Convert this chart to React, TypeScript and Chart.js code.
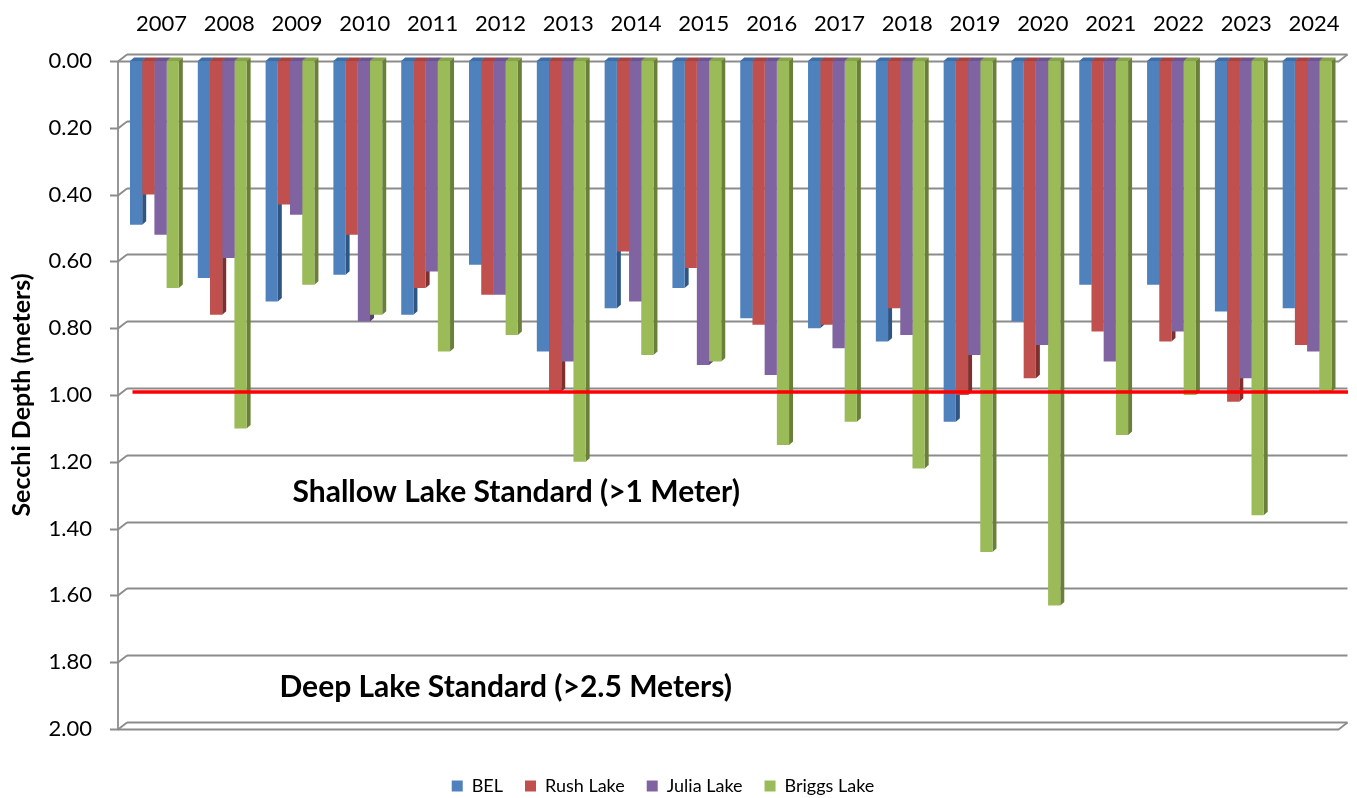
import React, { useEffect, useRef } from "react";
import { Chart, registerables } from "chart.js";

Chart.register(...registerables);

// ---------- data ----------
const YEARS = [
  "2007", "2008", "2009", "2010", "2011", "2012", "2013", "2014", "2015",
  "2016", "2017", "2018", "2019", "2020", "2021", "2022", "2023", "2024",
];
const BEL = [0.49, 0.65, 0.72, 0.64, 0.76, 0.61, 0.87, 0.74, 0.68, 0.77, 0.8, 0.84, 1.08, 0.78, 0.67, 0.67, 0.75, 0.74];
const RUSH = [0.4, 0.76, 0.43, 0.52, 0.68, 0.7, 0.99, 0.57, 0.62, 0.79, 0.79, 0.74, 1.0, 0.95, 0.81, 0.84, 1.02, 0.85];
const JULIA = [0.52, 0.59, 0.46, 0.78, 0.63, 0.7, 0.9, 0.72, 0.91, 0.94, 0.86, 0.82, 0.88, 0.85, 0.9, 0.81, 0.95, 0.87];
const BRIGGS = [0.68, 1.1, 0.67, 0.76, 0.87, 0.82, 1.2, 0.88, 0.9, 1.15, 1.08, 1.22, 1.47, 1.63, 1.12, 1.0, 1.36, 0.99];
const SERIES_NAMES = ["BEL", "Rush Lake", "Julia Lake", "Briggs Lake"];
const Y_MIN = 0;
const Y_MAX = 2;
const Y_STEP = 0.2;
const Y_TITLE = "Secchi Depth (meters)";
const STANDARD_DEPTH = 1.0;
const NOTES = ["Shallow Lake Standard (>1 Meter)", "Deep Lake Standard (>2.5 Meters)"];
const NOTE_DEPTHS = [1.29, 1.875];

// ---------- styles ----------
const FRONT = ["#4F81BD", "#C0504D", "#8064A2", "#9BBB59"];
const TOPC = ["#3F6DA5", "#A64442", "#6C558E", "#86A44B"];
const SIDE = ["#2F5583", "#7E302E", "#56426F", "#6A803A"];
const FONT = "Lato, 'Open Sans', sans-serif";
const GRID = "#8C8C8C";

const frame3d = {
  id: "frame3d",
  beforeDatasetsDraw(chart: any) {
    const ctx = chart.ctx;
    const ca = chart.chartArea;
    const ys = chart.scales.y;
    const DX = 9;
    const DY = 7;
    const fl = ca.left - 2.5;
    const fr = ca.right - 2.5;
    ctx.save();
    ctx.strokeStyle = GRID;
    ctx.lineWidth = 1.8;
    const n = Math.round((Y_MAX - Y_MIN) / Y_STEP);
    for (let i = 0; i <= n; i++) {
      const v = Y_MIN + i * Y_STEP;
      const py = Math.round(ys.getPixelForValue(v)) + 0.5;
      ctx.beginPath();
      ctx.moveTo(fl + DX, py - DY);
      ctx.lineTo(fr + DX, py - DY);
      ctx.stroke();
      ctx.beginPath();
      ctx.moveTo(fl - 8, py);
      ctx.lineTo(fl, py);
      ctx.lineTo(fl + DX, py - DY);
      ctx.stroke();
      if (i === 0 || i === n) {
        ctx.beginPath();
        ctx.moveTo(fl, py);
        ctx.lineTo(fr, py);
        ctx.lineTo(fr + DX, py - DY);
        ctx.stroke();
      }
    }
    ctx.beginPath();
    ctx.moveTo(fl, ys.getPixelForValue(Y_MIN));
    ctx.lineTo(fl, ys.getPixelForValue(Y_MAX));
    ctx.stroke();

    // 3D faces of the bars (top and right side)
    const d = 4;
    const e = 3.5;
    chart.data.datasets.forEach((_: any, di: number) => {
      const meta = chart.getDatasetMeta(di);
      meta.data.forEach((el: any) => {
        const p = el.getProps(["x", "y", "base", "width"], true);
        const xl = p.x - p.width / 2;
        const xr = p.x + p.width / 2;
        ctx.fillStyle = TOPC[di];
        ctx.beginPath();
        ctx.moveTo(xl, p.base);
        ctx.lineTo(xl + d, p.base - e);
        ctx.lineTo(xr + d, p.base - e);
        ctx.lineTo(xr, p.base);
        ctx.closePath();
        ctx.fill();
        ctx.fillStyle = SIDE[di];
        ctx.beginPath();
        ctx.moveTo(xr, p.base);
        ctx.lineTo(xr + d, p.base - e);
        ctx.lineTo(xr + d, p.y - e);
        ctx.lineTo(xr, p.y);
        ctx.closePath();
        ctx.fill();
      });
    });
    ctx.restore();
  },
  afterDatasetsDraw(chart: any) {
    const ctx = chart.ctx;
    const ca = chart.chartArea;
    const ys = chart.scales.y;
    ctx.save();
    // standard line
    const ry = ys.getPixelForValue(STANDARD_DEPTH) - 3;
    ctx.strokeStyle = "#FF0000";
    ctx.lineWidth = 3.5;
    ctx.beginPath();
    ctx.moveTo(ca.left + 12, ry);
    ctx.lineTo(ca.right + 7, ry);
    ctx.stroke();
    // notes
    ctx.fillStyle = "#000";
    ctx.font = `bold 30px ${FONT}`;
    ctx.textBaseline = "middle";
    ctx.textAlign = "left";
    ctx.fillText(NOTES[0], ca.left + 172, ys.getPixelForValue(NOTE_DEPTHS[0]));
    ctx.fillText(NOTES[1], ca.left + 159, ys.getPixelForValue(NOTE_DEPTHS[1]));
    ctx.restore();
  },
};

export default function App() {
  const ref = useRef<HTMLCanvasElement | null>(null);
  useEffect(() => {
    if (!ref.current) return;
    const series = [BEL, RUSH, JULIA, BRIGGS];
    const chart = new Chart(ref.current, {
      type: "bar",
      data: {
        labels: YEARS,
        datasets: series.map((s, i) => ({
          label: SERIES_NAMES[i],
          data: s,
          backgroundColor: FRONT[i],
          borderWidth: 0,
          categoryPercentage: 0.72,
          barPercentage: 1.0,
          xAxisID: "x",
        })),
      },
      options: {
        responsive: false,
        animation: false,
        layout: { padding: { left: -17, right: 14, top: 1, bottom: -7 } },
        plugins: {
          legend: {
            position: "bottom",
            labels: {
              boxWidth: 11,
              boxHeight: 11,
              padding: 22,
              color: "#000",
              font: { family: FONT, size: 18 },
            },
          },
          tooltip: { enabled: false },
        },
        scales: {
          x: {
            type: "category",
            position: "top",
            grid: { display: false, drawTicks: false },
            border: { display: false },
            ticks: {
              color: "#000",
              font: { family: FONT, size: 22 },
              padding: 24,
              labelOffset: 7,
              maxRotation: 0,
              autoSkip: false,
            },
            afterFit(scale: any) {
              scale.height = 60;
            },
          },
          xb: {
            type: "category",
            position: "bottom",
            grid: { display: false, drawTicks: false },
            border: { display: false },
            ticks: { display: false },
            afterFit(scale: any) {
              scale.height = 26;
            },
          },
          y: {
            type: "linear",
            reverse: true,
            min: Y_MIN,
            max: Y_MAX,
            grid: { display: false, drawTicks: false },
            border: { display: false },
            ticks: {
              stepSize: Y_STEP,
              color: "#000",
              font: { family: FONT, size: 22 },
              padding: 28.5,
              callback: (v: any) => Number(v).toFixed(2),
            },
            title: {
              display: true,
              text: Y_TITLE,
              color: "#000",
              font: { family: FONT, size: 25, weight: "bold" },
              padding: { top: 24, bottom: 0 },
            },
            afterFit(scale: any) {
              scale.width = 137.5;
            },
          },
        },
      },
      plugins: [frame3d],
    });
    return () => chart.destroy();
  }, []);
  return (
    <div style={{ position: "absolute", left: 0, top: 0, width: 1357, height: 798, background: "#fff" }}>
      <canvas ref={ref} width={1357} height={798} style={{ display: "block" }} />
    </div>
  );
}
